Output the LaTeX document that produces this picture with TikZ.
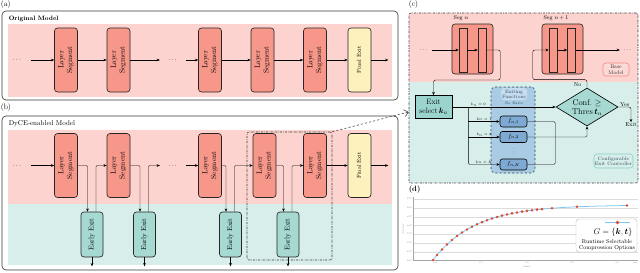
\documentclass[tikz,border=0pt]{standalone}
\usepackage{amsmath}
\usepackage{xcolor}
\definecolor{bandred}  {HTML}{FCD3CE}
\definecolor{segred}   {HTML}{F7978A}
\definecolor{finalylw} {HTML}{FDF1BE}
\definecolor{bandteal} {HTML}{D7EEEA}
\definecolor{exitteal} {HTML}{A5D9D2}
\definecolor{selteal}  {HTML}{9AD4CC}
\definecolor{fnblue}   {HTML}{A9CBE4}
\definecolor{fnheadc}  {HTML}{C6DDF0}
\definecolor{fboxblue} {HTML}{7EA9D3}
\definecolor{baseedge} {HTML}{F08C80}
\definecolor{baseface} {HTML}{FDDAD5}
\definecolor{ctrledge} {HTML}{86D0C6}
\definecolor{frameg}   {HTML}{3A3A3A}
\definecolor{gridg}    {HTML}{DCDCDC}
\definecolor{curveblue}{HTML}{7CC6F2}
\definecolor{dotred}   {HTML}{E4472F}
\definecolor{slate}    {HTML}{2E4A5C}
\usepackage{tikz}
\usetikzlibrary{arrows.meta,positioning,calc,shapes.geometric,backgrounds}
\newcommand{\vtxt}[1]{\rotatebox{90}{\begin{tabular}{@{}c@{}}#1\end{tabular}}}

\begin{document}
\begin{tikzpicture}[x=0.5mm, y=-0.5mm,
  font=\fontsize{10}{12}\selectfont,
  panel/.style={draw=frameg, line width=0.9pt, rounded corners=2mm, inner sep=0pt},
  plabel/.style={anchor=north west, inner sep=1pt, font=\fontsize{11}{13}\selectfont},
  ptitle/.style={anchor=west, inner sep=1pt, font=\fontsize{10}{12}\selectfont},
  segbox/.style={draw=black!85, fill=segred, rounded corners=1.5mm, line width=0.9pt, minimum width=11.5mm, minimum height=32mm, inner sep=0pt, font=\fontsize{10.5}{12.5}\selectfont},
  finalbox/.style={segbox, fill=finalylw, font=\fontsize{8}{10}\selectfont},
  exitbox/.style={segbox, fill=exitteal, minimum width=11mm, minimum height=22.5mm, font=\fontsize{10}{12}\selectfont},
  dotsn/.style={minimum width=13mm, inner sep=0pt},
  arr/.style={-{Stealth[length=1.6mm, width=1.3mm]}, line width=0.55pt},
  wire/.style={line width=0.55pt},
  zoombox/.style={draw=frameg, dash pattern=on 3pt off 1.5pt on 0.8pt off 1.5pt, line width=0.8pt, rounded corners=1mm, inner sep=0pt},
  zoomarr/.style={-{Straight Barb[length=2mm, width=3.5mm]}, dashed, line width=0.8pt, draw=frameg},
  cseg/.style={draw=black!85, fill=segred, rounded corners=1.5mm, line width=0.9pt, minimum width=20.5mm, minimum height=25mm, inner sep=0pt},
  bar/.style={draw=black!85, fill=segred, line width=0.8pt, minimum width=4mm, minimum height=22mm, inner sep=0pt},
  seglab/.style={font=\fontsize{8}{9}\selectfont, inner sep=1pt},
  selbox/.style={draw=black, fill=selteal, line width=1.1pt, minimum width=18.5mm, minimum height=11.5mm, inner sep=0pt, align=center, font=\fontsize{11}{12}\selectfont},
  decide/.style={diamond, draw=black, fill=exitteal, line width=0.9pt, minimum width=31mm, minimum height=19mm, inner sep=0pt},
  fnregion/.style={draw=slate, dashed, fill=fnblue, line width=0.9pt, rounded corners=2mm, minimum width=22mm, minimum height=43mm, inner sep=0pt},
  fnhead/.style={fill=fnheadc, rounded corners=1.5mm, minimum width=13mm, minimum height=6mm, inner sep=0pt, align=center, text=slate, font=\fontsize{7}{7.5}\selectfont},
  fbox/.style={draw=black, fill=fboxblue, rounded corners=1.2mm, line width=0.8pt, minimum width=13.5mm, minimum height=5.5mm, inner sep=0pt, font=\fontsize{8}{9}\selectfont},
  klab/.style={above, inner sep=0.8pt, font=\fontsize{4.5}{5}\selectfont},
  tinytxt/.style={inner sep=1pt, font=\fontsize{8}{9}\selectfont},
  basebox/.style={draw=baseedge, fill=baseface, line width=0.8pt, rounded corners=1.5mm, minimum width=13mm, minimum height=6.5mm, inner sep=0pt, align=center, text=black!80, font=\fontsize{7.5}{8}\selectfont},
  ctrlbox/.style={draw=ctrledge, fill=bandteal, line width=0.8pt, rounded corners=1.5mm, minimum width=19.5mm, minimum height=7mm, inner sep=0pt, align=center, text=slate, font=\fontsize{7}{7.5}\selectfont},
  grid/.style={draw=gridg, line width=0.3pt},
  curve/.style={draw=curveblue, line width=1.1pt},
  ticklab/.style={inner sep=0.5pt, text=black!60, font=\fontsize{2.8}{3}\selectfont},
  legbox/.style={draw=black!25, fill=white, rounded corners=1.5mm, line width=0.6pt, minimum width=30.5mm, minimum height=16.5mm}]
  \useasboundingbox (0,0) rectangle (640,272);

  % (a) Original Model
  \fill[bandred] (8,24) rectangle (392,97);
  \node[panel, minimum width=198mm, minimum height=44.5mm] (apanel) at (200,55.5) {};
  \node[plabel] (alab) at (0,0) {(a)};
  \node[ptitle, font=\bfseries\fontsize{9}{11}\selectfont] (atitle) at (8,19) {Original Model};
  \node[dotsn] (ad1) at (17.5,60) {$\cdots$};
  \node[segbox] (as1) at (66,60) {\vtxt{Layer\\Segment}};
  \node[segbox] (as2) at (118.5,60) {\vtxt{Layer\\Segment}};
  \node[dotsn] (ad2) at (173,60) {$\cdots$};
  \node[segbox] (as3) at (210,60) {\vtxt{Layer\\Segment}};
  \node[segbox] (as4) at (262.5,60) {\vtxt{Layer\\Segment}};
  \node[segbox] (as5) at (315,60) {\vtxt{Layer\\Segment}};
  \node[finalbox] (afin) at (359.5,60) {\vtxt{Final Exit}};
  \coordinate[right=8.5mm of afin.east] (aout);
  \draw[arr] (ad1.east) -- (as1.west);
  \draw[arr] (as1.east) -- (as2.west);
  \draw[arr] (as2.east) -- (ad2.west);
  \draw[arr] (ad2.east) -- (as3.west);
  \draw[arr] (as3.east) -- (as4.west);
  \draw[arr] (as4.east) -- (as5.west);
  \draw[arr] (as5.east) -- (afin.west);
  \draw[arr] (afin.east) -- (aout);

  % (b) DyCE-enabled Model
  \fill[bandred] (8,130) rectangle (392,204);
  \fill[bandteal] (8,204) rectangle (392,265);
  \node[panel, minimum width=198mm, minimum height=77mm] (bpanel) at (200,193) {};
  \node[plabel] (blab) at (0,103) {(b)};
  \node[ptitle] (btitle) at (8,124) {DyCE-enabled Model};
  \node[dotsn] (bd1) at (17.5,165.5) {$\cdots$};
  \node[segbox] (bs1) at (66,165.5) {\vtxt{Layer\\Segment}};
  \node[segbox] (bs2) at (118.5,165.5) {\vtxt{Layer\\Segment}};
  \node[dotsn] (bd2) at (173,165.5) {$\cdots$};
  \node[segbox] (bs3) at (210,165.5) {\vtxt{Layer\\Segment}};
  \node[segbox] (bs4) at (264.5,165.5) {\vtxt{Layer\\Segment}};
  \node[segbox] (bs5) at (315,165.5) {\vtxt{Layer\\Segment}};
  \node[finalbox] (bfin) at (359.5,165.5) {\vtxt{Final Exit}};
  \coordinate[right=8.5mm of bfin.east] (bout);
  \node[exitbox] (be1) at (92,234.5) {\vtxt{Early Exit}};
  \node[exitbox] (be2) at (144.5,234.5) {\vtxt{Early Exit}};
  \node[exitbox] (be3) at (230.5,234.5) {\vtxt{Early Exit}};
  \node[exitbox] (be4) at (288,234.5) {\vtxt{Early Exit}};
  \coordinate[below=4.5mm of be1.south] (be1o);
  \coordinate[below=4.5mm of be2.south] (be2o);
  \coordinate[below=4.5mm of be3.south] (be3o);
  \coordinate[below=4.5mm of be4.south] (be4o);
  \draw[arr] (bd1.east) -- (bs1.west);
  \draw[arr, rounded corners=1.5pt] (bs1.east) -| ([xshift=-2.25mm]be1.north);
  \draw[arr, rounded corners=1.5pt] ([xshift=2mm]be1.north) |- (bs2.west);
  \draw[arr, rounded corners=1.5pt] (bs2.east) -| ([xshift=-2.25mm]be2.north);
  \draw[arr, rounded corners=1.5pt] ([xshift=2mm]be2.north) |- (bd2.west);
  \draw[arr] (bd2.east) -- (bs3.west);
  \draw[arr, rounded corners=1.5pt] (bs3.east) -| ([xshift=-2.25mm]be3.north);
  \draw[arr, rounded corners=1.5pt] ([xshift=2mm]be3.north) |- (bs4.west);
  \draw[arr, rounded corners=1.5pt] (bs4.east) -| ([xshift=-2.25mm]be4.north);
  \draw[arr, rounded corners=1.5pt] ([xshift=2mm]be4.north) |- (bs5.west);
  \draw[arr] (bs5.east) -- (bfin.west);
  \draw[arr] (bfin.east) -- (bout);
  \draw[arr] (be1.south) -- (be1o);
  \draw[arr] (be2.south) -- (be2o);
  \draw[arr] (be3.south) -- (be3o);
  \draw[arr] (be4.south) -- (be4o);
  \node[zoombox, minimum width=42.5mm, minimum height=64mm] (bzoom) at (289.5,196) {};

  % (c) one segment with its exit controller
  \fill[bandred] (409,13) rectangle (638,82);
  \fill[bandteal] (409,82) rectangle (638,183);
  \node[zoombox, minimum width=114.5mm, minimum height=85mm] (cpanel) at (523.5,98) {};
  \node[plabel] (clab) at (408,0) {(c)};
  \draw[zoomarr] (bzoom.north east) -- ([yshift=-7mm]cpanel.west);
  \node[cseg] (sn) at (472.5,49) {};
  \node[bar] (sn1) at (463,50) {};
  \node[bar] (sn2) at (482,50) {};
  \node[seglab] (snl) at (461,18) {Seg $n$};
  \node[cseg] (sm) at (562.5,49) {};
  \node[bar] (sm1) at (553,50) {};
  \node[bar] (sm2) at (571.5,50) {};
  \node[seglab] (sml) at (556,18) {Seg $n+1$};
  \node[dotsn, minimum width=8mm, font=\fontsize{8}{9}\selectfont] (cdl) at (424,50) {$\cdots$};
  \node[dotsn, minimum width=8mm, font=\fontsize{8}{9}\selectfont] (cdr) at (628,50) {$\cdots$};
  \node[basebox] (base) at (616,69.5) {Base\\Model};
  \node[fnregion] (fnr) at (513,130) {};
  \node[fnhead] (fnh) at (514,94) {Exiting\\Functions};
  \node[inner sep=0.5pt, text=slate, font=\fontsize{5}{5.5}\selectfont] (noex) at (514,103.5) {No Exits};
  \node[selbox] (exsel) at (433.5,107) {Exit\\select\,$\boldsymbol{k}_n$};
  \node[decide] (dia) at (587,107) {};
  \node[align=center, inner sep=0pt, font=\fontsize{12}{13}\selectfont] (diat) at (587,107.5) {Conf.\ $\geq$\\Thres\,$\boldsymbol{t}_n$};
  \node[fbox] (f1) at (513.5,121.5) {$f_{n,1}$};
  \node[fbox] (f2) at (513.5,137) {$f_{n,2}$};
  \node[font=\fontsize{6}{6}\selectfont, inner sep=0pt] (vd) at (514,151) {\rotatebox{90}{$\cdots$}};
  \node[fbox] (fK) at (513.5,164.5) {$f_{n,K}$};
  \node[ctrlbox] (ctrl) at (613.5,161) {Configurable\\Exit Controller};
  \node[tinytxt] (nolab) at (577.5,85) {No};
  \node[tinytxt] (cexit) at (631,125) {Exit};
  \coordinate[right=8mm of exsel.east] (split);
  \coordinate[right=14mm of f2.east] (fm);
  \draw[arr] (cdl.east) -- (sn1.west);
  \draw[arr] (sn1.east) -- (sn2.west);
  \draw[arr, rounded corners=3pt] (sn2.east) -- ++(7mm,0) -- ++(0,-15mm) -| (exsel.north);
  \draw[arr, rounded corners=3pt] (dia.north) -- ++(0,4mm) -| ([xshift=-8mm]sm1.west) -- (sm1.west);
  \draw[arr] (sm1.east) -- (sm2.west);
  \draw[arr] (sm2.east) -- (cdr.west);
  \draw[arr] (exsel.east) -- node[klab, pos=0.25] (k0) {$k_n=0$} (dia.west);
  \draw[arr] (split |- f1.west) -- node[klab] (k1) {$k_n=1$} (f1.west);
  \draw[arr] (split |- f2.west) -- node[klab] (k2) {$k_n=2$} (f2.west);
  \draw[arr, rounded corners=2pt] (split) |- node[klab, pos=0.75] (kK) {$k_n=K$} (fK.west);
  \draw[wire, rounded corners=2pt] (f1.east) -| (fm) |- (fK.east);
  \draw[arr, rounded corners=2pt] (f2.east) -| (dia.south);
  \draw[arr, rounded corners=3pt] (dia.east) -| node[tinytxt, above, pos=0.25] (yes) {Yes} (cexit.north);

  % (d) accuracy against cost
  \node[plabel, font=\bfseries\fontsize{11}{13}\selectfont] (dlab) at (408,185) {(d)};
  \foreach \yy/\lab in {260.5/60\%, 251.75/65\%, 243/70\%, 234.25/75\%, 225.5/80\%, 216.75/85\%, 208/90\%, 199.25/95\%} {
    \draw[grid] (413,\yy) -- (638,\yy);
    \node[ticklab, anchor=east] at (412.5,\yy) {\lab};
  }
  \draw[draw=black!35, line width=0.4pt] (413,197) -- (413,260.5) -- (638,260.5);
  \foreach \xx/\lab in {435/1.0, 481/1.5, 527/2.0, 572/2.5, 617/3.0}
    \node[ticklab, anchor=north] at (\xx,261.5) {\lab};
  \node[ticklab, anchor=north] (xexp) at (635,262) {1e9};
  \node[ticklab, anchor=north] (xlab) at (527,266) {MACs};
  \node[ticklab, rotate=90] (ylab) at (403,229) {Accuracy};
  \draw[curve] plot[domain=433:627, samples=80] (\x,{205+55*exp(-(\x-433)/42)});
  \foreach \px in {433,437,442,447,452,457,462,467,472,477,482,487,492,497,502,507,512,517,522,527,532,537,542,552,577,627}
    \fill[dotred] (\px,{205+55*exp(-(\px-433)/42)}) circle (0.7mm);
  \node[legbox] (leg) at (606.5,235.5) {};
  \draw[curveblue, line width=1.8pt] (605,222.5) -- (630,222.5);
  \fill[dotred] (617.5,222.5) circle (0.9mm);
  \node[inner sep=0pt, font=\fontsize{12}{13}\selectfont] (gset) at (613,232.5) {$G=\{\boldsymbol{k},\boldsymbol{t}\}$};
  \node[align=center, inner sep=0pt, font=\fontsize{8}{8.5}\selectfont] (rso) at (607,245) {Runtime Selectable\\Compression Options};
\end{tikzpicture}
\end{document}
